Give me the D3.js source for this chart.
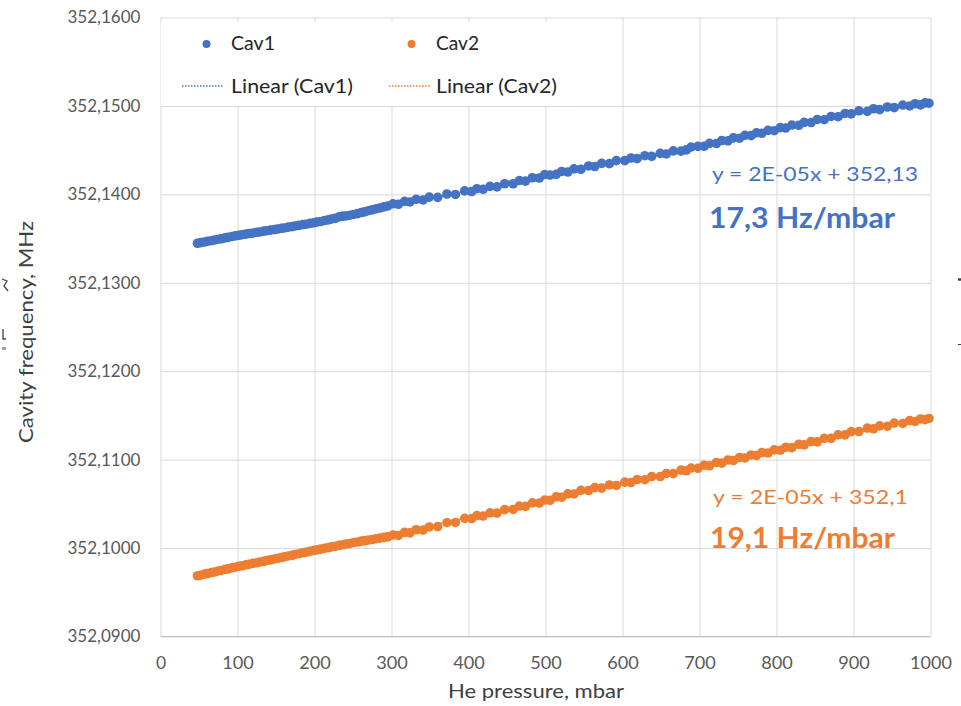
<!DOCTYPE html>
<html>
<head>
<meta charset="utf-8">
<script src="https://cdn.jsdelivr.net/npm/d3@7"></script>
<style>
  body { margin: 0; background: #fff; }
  svg { display: block; }
  text { font-family: Lato, "Noto Sans", sans-serif; }
</style>
</head>
<body>
<svg id="chart" width="961" height="706"></svg>
<script>
// He pressure (mbar) shared by both cavity measurements
const pressure = [48,52,57,61,66,70,75,79,84,88,93,97,
  102,106,111,115,120,125,129,134,138,143,148,
  152,157,161,166,171,175,180,185,189,194,199,
  203,208,213,218,222,227,232,237,241,246,
  251,256,261,265,270,275,280,285,290,295,
  302,309,317,324,332,341,349,
  360,372,383,395,
  404,411,419,428,437,447,
  458,466,474,483,492,499,
  506,514,521,529,537,546,
  556,564,573,583,592,
  603,611,619,629,638,649,
  657,666,676,683,689,698,
  706,713,722,729,737,744,
  752,759,767,774,781,789,797,
  805,812,820,829,836,845,
  853,862,871,880,889,897,
  907,918,926,934,944,953,
  964,973,980,987,993,998];

// Cavity 1 frequency, MHz
const cav1 = [352.13447,352.13454,352.13461,352.13469,352.13476,352.13484,352.13493,352.13498,352.13508,352.13514,352.13524,352.13530,
  352.13537,352.13544,352.13550,352.13557,352.13562,352.13571,352.13575,352.13584,352.13588,352.13596,352.13601,
  352.13608,352.13616,352.13620,352.13630,352.13635,352.13643,352.13649,352.13658,352.13662,352.13672,352.13677,
  352.13686,352.13693,352.13704,352.13711,352.13721,352.13728,352.13746,352.13754,352.13756,352.13764,
  352.13773,352.13782,352.13795,352.13802,352.13815,352.13824,352.13837,352.13846,352.13859,352.13868,
  352.13893,352.13888,352.13921,352.13914,352.13944,352.13937,352.13969,
  352.13966,352.14004,352.13999,352.14039,
  352.14032,352.14064,352.14057,352.14090,352.14085,352.14120,
  352.14120,352.14156,352.14150,352.14188,352.14185,352.14224,
  352.14219,352.14227,352.14259,352.14253,352.14288,352.14284,
  352.14321,352.14315,352.14350,352.14347,352.14382,
  352.14382,352.14411,352.14404,352.14437,352.14430,352.14464,
  352.14457,352.14492,352.14489,352.14503,352.14535,352.14543,
  352.14544,352.14577,352.14575,352.14609,352.14605,352.14639,
  352.14635,352.14668,352.14664,352.14696,352.14691,352.14724,352.14720,
  352.14755,352.14750,352.14784,352.14781,352.14814,352.14812,
  352.14847,352.14844,352.14881,352.14878,352.14915,352.14910,
  352.14945,352.14939,352.14968,352.14958,352.14988,352.14981,
  352.15010,352.15000,352.15025,352.15012,352.15034,352.15031];

// Cavity 2 frequency, MHz
const cav2 = [352.09687,352.09693,352.09705,352.09711,352.09723,352.09729,352.09741,352.09747,352.09759,352.09765,352.09777,352.09783,
  352.09795,352.09800,352.09811,352.09816,352.09827,352.09834,352.09843,352.09850,352.09859,352.09866,352.09877,
  352.09883,352.09894,352.09900,352.09911,352.09919,352.09928,352.09936,352.09947,352.09953,352.09964,352.09972,
  352.09981,352.09988,352.09998,352.10005,352.10013,352.10020,352.10031,352.10037,352.10046,352.10052,
  352.10063,352.10068,352.10078,352.10082,352.10091,352.10097,352.10106,352.10112,352.10121,352.10127,
  352.10148,352.10143,352.10178,352.10172,352.10207,352.10204,352.10239,
  352.10242,352.10287,352.10290,352.10336,
  352.10334,352.10367,352.10362,352.10399,352.10396,352.10435,
  352.10437,352.10475,352.10472,352.10511,352.10509,352.10543,
  352.10540,352.10579,352.10575,352.10613,352.10612,352.10652,
  352.10651,352.10684,352.10678,352.10714,352.10708,
  352.10746,352.10741,352.10775,352.10773,352.10809,352.10809,
  352.10844,352.10842,352.10881,352.10874,352.10905,352.10902,
  352.10937,352.10931,352.10968,352.10961,352.10996,352.10990,
  352.11025,352.11019,352.11053,352.11047,352.11080,352.11075,352.11110,
  352.11107,352.11140,352.11136,352.11174,352.11167,352.11205,
  352.11201,352.11241,352.11241,352.11281,352.11280,352.11318,
  352.11318,352.11356,352.11349,352.11382,352.11378,352.11414,
  352.11409,352.11441,352.11432,352.11460,352.11452,352.11466];

const xTicks = [0,100,200,300,400,500,600,700,800,900,1000];
const yTicks = [352.09,352.10,352.11,352.12,352.13,352.14,352.15,352.16];
const seriesNames = ["Cav1", "Cav2"];
const trendNames = ["Linear (Cav1)", "Linear (Cav2)"];
const seriesColors = ["#4472C4", "#ED7D31"];
const equations = ["y = 2E-05x + 352,13", "y = 2E-05x + 352,1"];
const sensitivities = ["17,3 Hz/mbar", "19,1 Hz/mbar"];
const xTitle = "He pressure, mbar";
const yTitle = "Cavity frequency, MHz";

const svg = d3.select("#chart");
const plot = { left: 160.5, right: 930.5, top: 17.5, bottom: 636.5 };

const x = d3.scaleLinear().domain([0, 1000]).range([plot.left, plot.right]);
const y = d3.scaleLinear().domain([352.09, 352.16]).range([plot.bottom, plot.top]);
const fmtY = v => d3.format(".4f")(v).replace(".", ",");

// fit a text element to a given horizontal extent
function fit(sel, w) {
  return sel.attr("textLength", w).attr("lengthAdjust", "spacingAndGlyphs");
}

// vertical gridlines + x tick labels
const gx = svg.append("g")
  .attr("transform", `translate(0,${plot.bottom})`)
  .call(d3.axisBottom(x).tickValues(xTicks).tickSize(-(plot.bottom - plot.top)).tickPadding(20).tickFormat(d3.format("d")));
gx.select(".domain").remove();
gx.selectAll(".tick line").attr("stroke", "#d9d9d9");
gx.selectAll(".tick text").attr("fill", "#595959").style("font-size", "17px")
  .each(function(d) { fit(d3.select(this), String(d).length * 10.2 + (d === 0 ? 0 : 1)); });

// horizontal gridlines + y tick labels
const gy = svg.append("g")
  .attr("transform", `translate(${plot.left},0)`)
  .call(d3.axisLeft(y).tickValues(yTicks).tickSize(-(plot.right - plot.left)).tickPadding(20).tickFormat(fmtY));
gy.select(".domain").remove();
gy.selectAll(".tick line").attr("stroke", "#d9d9d9");
gy.selectAll(".tick text").attr("fill", "#595959").style("font-size", "17px")
  .each(function() { fit(d3.select(this), 73); });

// x axis baseline
svg.append("line")
  .attr("x1", plot.left).attr("x2", plot.right)
  .attr("y1", plot.bottom).attr("y2", plot.bottom)
  .attr("stroke", "#bfbfbf");

const series = [cav1, cav2].map((vals, i) => ({
  name: seriesNames[i],
  color: seriesColors[i],
  points: pressure.map((p, j) => ({ p, f: vals[j] }))
}));

// least-squares trendlines
series.forEach(s => {
  const mx = d3.mean(s.points, d => d.p), my = d3.mean(s.points, d => d.f);
  const sxy = d3.sum(s.points, d => (d.p - mx) * (d.f - my));
  const sxx = d3.sum(s.points, d => (d.p - mx) ** 2);
  const b = sxy / sxx, a = my - b * mx;
  const [p0, p1] = d3.extent(s.points, d => d.p);
  svg.append("line")
    .attr("x1", x(p0)).attr("y1", y(a + b * p0))
    .attr("x2", x(p1)).attr("y2", y(a + b * p1))
    .attr("stroke", s.color).attr("stroke-width", 1.5)
    .attr("stroke-dasharray", "1.5,1.5");
});

// scatter points
series.forEach(s => {
  svg.append("g").selectAll("circle")
    .data(s.points).join("circle")
    .attr("cx", d => x(d.p)).attr("cy", d => y(d.f))
    .attr("r", 4.8).attr("fill", s.color);
});

// legend
const lg = svg.append("g");
lg.append("rect").attr("x", 161).attr("y", 22).attr("width", 416).attr("height", 84).attr("fill", "#fff");
const legendDot = [206.5, 411.5];
const legendText = [231, 436];
const nameW = [44, 43];
const trendW = [122, 121];
const lineSpan = [[182, 224], [389, 430]];
series.forEach((s, i) => {
  lg.append("circle").attr("cx", legendDot[i]).attr("cy", 44).attr("r", 4).attr("fill", s.color);
  fit(lg.append("text").attr("x", legendText[i]).attr("y", 50).text(s.name)
    .attr("fill", "#262626").style("font-size", "19.5px"), nameW[i]);
  lg.append("line").attr("x1", lineSpan[i][0]).attr("x2", lineSpan[i][1]).attr("y1", 86).attr("y2", 86)
    .attr("stroke", s.color).attr("stroke-width", 1.5).attr("stroke-dasharray", "1.5,1.5");
  fit(lg.append("text").attr("x", legendText[i]).attr("y", 93).text(trendNames[i])
    .attr("fill", "#262626").style("font-size", "19.5px"), trendW[i]);
});

// trendline equations and sensitivities
const eqPos = [[712, 181, 206], [713, 504, 195]];
const sensPos = [[709, 228, 186], [710, 548, 185]];
series.forEach((s, i) => {
  fit(svg.append("text").attr("x", eqPos[i][0]).attr("y", eqPos[i][1])
    .attr("fill", s.color).style("font-size", "18.5px").text(equations[i]), eqPos[i][2]);
  fit(svg.append("text").attr("x", sensPos[i][0]).attr("y", sensPos[i][1])
    .attr("fill", s.color).style("font-size", "28px").style("font-weight", "bold")
    .text(sensitivities[i]), sensPos[i][2]);
});

// axis titles
fit(svg.append("text").attr("x", 448).attr("y", 698)
  .attr("fill", "#404040").style("font-size", "19.5px").text(xTitle), 176);
fit(svg.append("text").attr("transform", "translate(33,443) rotate(-90)")
  .attr("fill", "#404040").style("font-size", "20px").text(yTitle), 222);

// clipped fragments of neighbouring content at the page edges
const edge = svg.append("g").attr("stroke", "#404040").attr("fill", "none").attr("stroke-width", 1.3);
edge.append("path").attr("d", "M2,279 L7,281 L4,286 L8,291");
edge.append("path").attr("d", "M3,329 L3,339 L6,339");
edge.append("path").attr("d", "M3,347 L3,350 M5,347 L5,350").attr("stroke-width", 1);
edge.append("path").attr("d", "M958,279.5 L961,279.5").attr("stroke-width", 2.5);
edge.append("path").attr("d", "M958,344.5 L961,344.5").attr("stroke-width", 1);
</script>
</body>
</html>
